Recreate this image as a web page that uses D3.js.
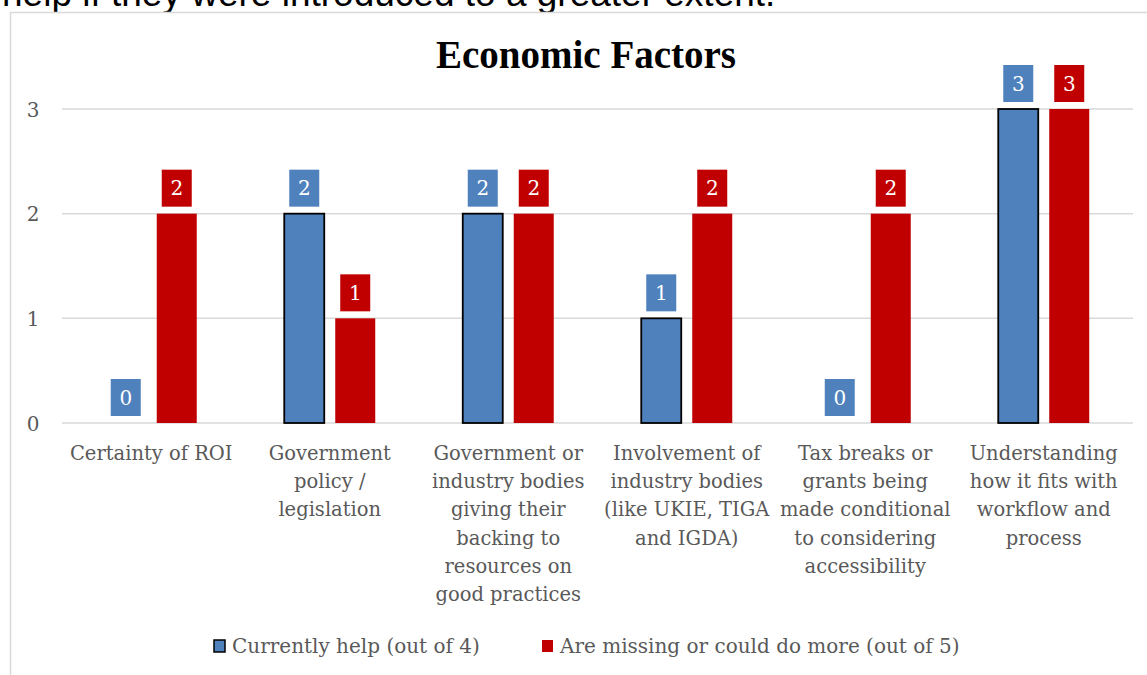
<!DOCTYPE html>
<html>
<head>
<meta charset="utf-8">
<script src="https://cdn.jsdelivr.net/npm/d3@7"></script>
<style>
  html, body { margin: 0; padding: 0; background: #ffffff; overflow: hidden; }
  svg { display: block; }
</style>
</head>
<body>
<svg id="chart" width="1147" height="675"></svg>
<script>
// Chart data
const categories = [
  "Certainty of ROI",
  "Government policy / legislation",
  "Government or industry bodies giving their backing to resources on good practices",
  "Involvement of industry bodies (like UKIE, TIGA and IGDA)",
  "Tax breaks or grants being made conditional to considering accessibility",
  "Understanding how it fits with workflow and process"
];
// Wrapped lines for each category label
const categoryLines = [
  ["Certainty of ROI"],
  ["Government", "policy /", "legislation"],
  ["Government or", "industry bodies", "giving their", "backing to", "resources on", "good practices"],
  ["Involvement of", "industry bodies", "(like UKIE, TIGA", "and IGDA)"],
  ["Tax breaks or", "grants being", "made conditional", "to considering", "accessibility"],
  ["Understanding", "how it fits with", "workflow and", "process"]
];
const seriesNames = ["Currently help (out of 4)", "Are missing or could do more (out of 5)"];
const currentlyHelp = [0, 2, 2, 1, 0, 3];
const missingOrMore = [2, 1, 2, 2, 2, 3];
const yTicks = [0, 1, 2, 3];
const chartTitle = "Economic Factors";
const headerText = "help if they were introduced to a greater extent.";

const colors = ["#4F81BD", "#C00000"];
const gray = "#595959";
const labelFont = "'DejaVu Serif', serif";

const svg = d3.select("#chart");

// Line of document text above the chart frame (partly cut off at the top)
svg.append("text")
  .attr("x", 2).attr("y", 6)
  .attr("font-family", "'Liberation Sans', Arial, sans-serif")
  .attr("font-size", 37)
  .attr("fill", "#000")
  .text(headerText);

// Chart frame
svg.append("rect")
  .attr("x", 0).attr("y", 12.5)
  .attr("width", 1147).attr("height", 675)
  .attr("fill", "#fff");
svg.append("path")
  .attr("d", "M10.5,675 V12.5 H1147")
  .attr("fill", "none")
  .attr("stroke", "#d9d9d9")
  .attr("stroke-width", 1.5);

// Scales
const plot = { left: 62, right: 1133, top: 109, bottom: 423 };
const x = d3.scaleBand().domain(categories).range([plot.left, plot.right]).paddingInner(0).paddingOuter(0);
const xs = d3.scaleBand().domain([0, 1]).range([0, x.bandwidth()])
  .paddingInner(11 / 51).paddingOuter(0.858);
const y = d3.scaleLinear().domain([0, 3]).range([plot.bottom, plot.top]);

// Title
svg.append("text")
  .attr("x", 586).attr("y", 68)
  .attr("text-anchor", "middle")
  .attr("font-family", "'Liberation Serif', serif")
  .attr("font-weight", "bold")
  .attr("font-size", 39)
  .attr("fill", "#000")
  .text(chartTitle);

// Gridlines
svg.append("g")
  .selectAll("line")
  .data(yTicks)
  .join("line")
  .attr("x1", plot.left).attr("x2", plot.right)
  .attr("y1", d => y(d)).attr("y2", d => y(d))
  .attr("stroke", "#d9d9d9")
  .attr("stroke-width", 1.5);

// Y axis labels
const yAxis = d3.axisLeft(y).tickValues(yTicks).tickFormat(d3.format("d")).tickSize(0).tickPadding(0);
const yAxisG = svg.append("g")
  .attr("transform", `translate(38,0)`)
  .call(yAxis);
yAxisG.select(".domain").remove();
yAxisG.selectAll("text")
  .attr("font-family", labelFont)
  .attr("font-size", 20)
  .attr("fill", gray)
  .attr("text-anchor", "middle")
  .attr("x", -5)
  .attr("dy", "0.35em");

// Bars
const series = [currentlyHelp, missingOrMore];
const barData = [];
categories.forEach((c, i) => {
  series.forEach((vals, s) => barData.push({ cat: c, s, v: vals[i] }));
});

const bars = svg.append("g");
bars.selectAll("rect")
  .data(barData.filter(d => d.v > 0))
  .join("rect")
  .attr("x", d => x(d.cat) + xs(d.s))
  .attr("y", d => y(d.v))
  .attr("width", xs.bandwidth())
  .attr("height", d => y(0) - y(d.v))
  .attr("fill", d => colors[d.s])
  .attr("stroke", d => d.s === 0 ? "#000" : "none")
  .attr("stroke-width", 1.8);

// Value labels in filled boxes
const boxW = 30, boxH = 37, boxGap = 7;
const labels = svg.append("g").selectAll("g")
  .data(barData)
  .join("g")
  .attr("transform", d => {
    const cx = x(d.cat) + xs(d.s) + xs.bandwidth() / 2;
    return `translate(${cx},${y(d.v) - boxGap - boxH / 2})`;
  });
labels.append("rect")
  .attr("x", -boxW / 2).attr("y", -boxH / 2)
  .attr("width", boxW).attr("height", boxH)
  .attr("fill", d => colors[d.s]);
labels.append("text")
  .attr("text-anchor", "middle")
  .attr("dy", "0.36em")
  .attr("font-family", labelFont)
  .attr("font-size", 20)
  .attr("fill", "#fff")
  .text(d => d.v);

// Category labels
const catG = svg.append("g").selectAll("text")
  .data(categories)
  .join("text")
  .attr("text-anchor", "middle")
  .attr("font-family", labelFont)
  .attr("font-size", 19.5)
  .attr("fill", gray);
catG.each(function (c, i) {
  const t = d3.select(this);
  categoryLines[i].forEach((line, k) => {
    t.append("tspan")
      .attr("x", x(c) + x.bandwidth() / 2)
      .attr("y", 460 + k * 28.2)
      .text(line);
  });
});

// Legend
const legendItems = [
  { name: seriesNames[0], color: colors[0], mx: 214, tx: 232 },
  { name: seriesNames[1], color: colors[1], mx: 542, tx: 560 }
];
const legend = svg.append("g").selectAll("g")
  .data(legendItems)
  .join("g");
legend.append("rect")
  .attr("x", d => d.mx).attr("y", 640)
  .attr("width", 11).attr("height", 12)
  .attr("fill", d => d.color)
  .attr("stroke", (d, i) => i === 0 ? "#000" : "none")
  .attr("stroke-width", 1.5);
legend.append("text")
  .attr("x", d => d.tx).attr("y", 653)
  .attr("font-family", labelFont)
  .attr("font-size", 20)
  .attr("fill", gray)
  .text(d => d.name);
</script>
</body>
</html>
